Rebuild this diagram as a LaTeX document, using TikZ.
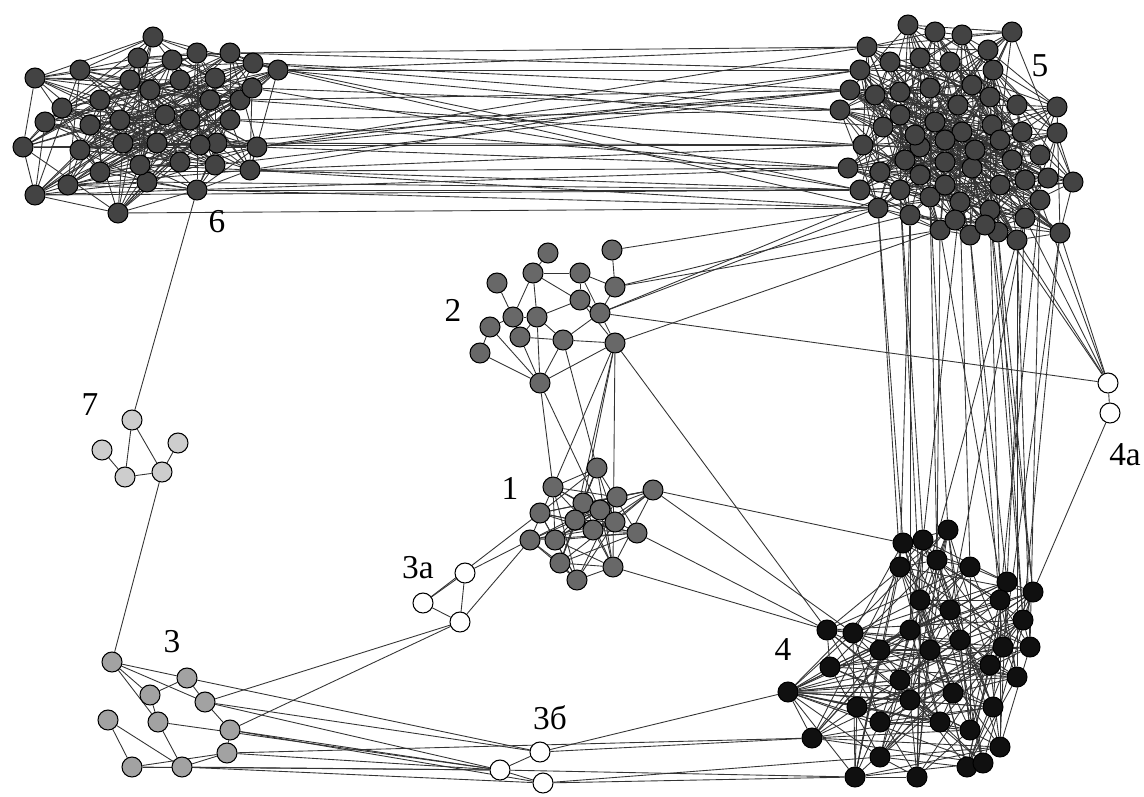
\documentclass[tikz,border=0pt]{standalone}
\usepackage{fontspec}
\setmainfont{Liberation Serif}
\usetikzlibrary{backgrounds}
\definecolor{grdark}{HTML}{434343}
\definecolor{grmid}{HTML}{686868}
\definecolor{grlight}{HTML}{A2A2A2}
\definecolor{grpale}{HTML}{CDCDCD}
\definecolor{grblack}{HTML}{101010}

\begin{document}
\begin{tikzpicture}[x=0.02cm, y=-0.02cm,
    vert/.style={circle, draw=black, line width=0.6pt, minimum size=0.4cm, inner sep=0pt},
    n6/.style={vert, fill=grdark},
    n5/.style={vert, fill=grdark},
    n4/.style={vert, fill=grblack},
    n2/.style={vert, fill=grmid},
    n3/.style={vert, fill=grlight},
    n7/.style={vert, fill=grpale},
    nw/.style={vert, fill=white},
    link/.style={draw=black!80, line width=0.5pt},
    lbl/.style={font=\fontsize{19}{20}\selectfont, inner sep=1pt}]
    \useasboundingbox (0,0) rectangle (1144,796);

    % cluster 6
    \foreach \p [count=\i] in {(35,78),(80,70),(153,37),(138,58),(197,53),(230,53),(253,63),(278,70),
        (45,122),(23,147),(35,195),(118,213),(147,182),(197,190),(257,147),(217,143),(123,143),
        (157,143),(100,100),(150,90),(180,80),(210,100),(240,100),(120,120),(190,120),(230,120),
        (80,150),(100,172),(180,162),(62,108),(172,60),(215,78),(252,88),(68,185),(250,170),
        (130,80),(200,145),(165,115),(90,125),(140,165),(215,165)}
        \node[n6] (g6-\i) at \p {};
    % cluster 5
    \foreach \p [count=\i] in {(908,25),(935,32),(962,35),(1012,32),(867,47),(988,50),(993,70),
        (1017,105),(1057,107),(1057,133),(1073,182),(1060,233),(1017,240),(878,208),(840,110),
        (883,127),(863,145),(920,147),(860,70),(890,62),(920,58),(950,62),(972,85),(900,92),
        (930,88),(958,105),(990,97),(1022,132),(1040,155),(850,90),(900,115),(935,122),(962,132),
        (992,125),(1012,160),(1040,200),(1025,218),(848,168),(880,172),(905,160),(945,162),
        (972,168),(1000,185),(900,190),(930,197),(960,202),(990,210),(940,230),(970,235),
        (998,232),(910,215),(860,190),(1048,178),
        (875,95),(915,135),(945,140),(975,150),(1000,140),(1025,180),(945,185),(920,175),
        (985,225),(955,220)}
        \node[n5] (g5-\i) at \p {};
    % cluster 4
    \foreach \p [count=\i] in {(948,530),(903,543),(923,540),(900,567),(937,560),(970,567),
        (1007,582),(1033,592),(1023,620),(827,630),(853,633),(1003,647),(1030,647),(830,667),
        (1017,677),(788,692),(857,707),(910,700),(953,693),(993,707),(812,738),(1000,747),
        (880,757),(967,767),(983,763),(855,777),(917,777),(920,600),(950,610),(880,650),
        (930,650),(960,640),(900,680),(940,722),(880,722),(970,730),(1000,600),(910,630),(990,665)}
        \node[n4] (g4-\i) at \p {};
    % cluster 2
    \foreach \p [count=\i] in {(548,253),(612,250),(497,283),(533,273),(580,273),(615,287),
        (490,327),(513,317),(537,317),(580,300),(600,313),(520,337),(563,340),(615,343),
        (480,353),(540,383)}
        \node[n2] (g2-\i) at \p {};
    % cluster 1
    \foreach \p [count=\i] in {(597,468),(553,487),(583,503),(617,497),(653,490),(540,513),
        (593,530),(637,533),(530,540),(560,563),(577,580),(613,567),(555,540),(600,510),
        (575,520),(615,522)}
        \node[n2] (g1-\i) at \p {};
    % cluster 3
    \foreach \p [count=\i] in {(112,662),(187,678),(150,695),(205,702),(108,720),(158,722),
        (230,730),(132,767),(182,767),(227,753)}
        \node[n3] (g3-\i) at \p {};
    % cluster 7
    \foreach \p [count=\i] in {(132,420),(102,450),(178,443),(125,477),(162,472)}
        \node[n7] (g7-\i) at \p {};
    % small white groups
    \node[nw] (ga-1) at (465,573) {};
    \node[nw] (ga-2) at (423,603) {};
    \node[nw] (ga-3) at (460,622) {};
    \node[nw] (gb-1) at (540,752) {};
    \node[nw] (gb-2) at (500,770) {};
    \node[nw] (gb-3) at (543,783) {};
    \node[nw] (gc-1) at (1108,383) {};
    \node[nw] (gc-2) at (1110,413) {};

    % labels
    \node[lbl] (l6) at (217,222) {6};
    \node[lbl] (l5) at (1040,66) {5};
    \node[lbl] (l2) at (453,310) {2};
    \node[lbl] (l1) at (510,488) {1};
    \node[lbl] (l7) at (90,405) {7};
    \node[lbl] (l3) at (172,642) {3};
    \node[lbl] (l3a) at (418,568) {3a};
    \node[lbl] (l3b) at (550,718) {3б};
    \node[lbl] (l4) at (783,650) {4};
    \node[lbl] (l4a) at (1125,455) {4a};

    \begin{pgfonlayer}{background}
    % inside the dense clusters
    \foreach \i in {1,...,41}{
      \foreach \k in {1,2,5,9,14,20}{
        \pgfmathtruncatemacro\j{mod(\i+\k-1,41)+1}
        \draw[link] (g6-\i) -- (g6-\j);
      }
    }
    \foreach \i in {1,...,63}{
      \foreach \k in {1,3,7,12,20,29}{
        \pgfmathtruncatemacro\j{mod(\i+\k-1,63)+1}
        \draw[link] (g5-\i) -- (g5-\j);
      }
    }
    \foreach \i in {1,...,39}{
      \foreach \k in {1,4,9,15,22}{
        \pgfmathtruncatemacro\j{mod(\i+\k-1,39)+1}
        \draw[link] (g4-\i) -- (g4-\j);
      }
    }
    \foreach \j in {11,14,17,18,19,20,21,23,26,30,33,35,34,36}
      \draw[link] (g4-16) -- (g4-\j);
    \foreach \i in {1,...,16}{
      \foreach \k in {1,2,5,7}{
        \pgfmathtruncatemacro\j{mod(\i+\k-1,16)+1}
        \draw[link] (g1-\i) -- (g1-\j);
      }
    }
    \foreach \a/\b in {1/4,4/5,4/9,4/8,4/11,3/8,2/6,5/10,5/11,10/11,8/9,8/7,7/16,9/13,9/16,
        9/12,12/16,13/14,11/14,10/14,15/16,16/14,7/15,9/10,12/13,8/12,5/6,6/11,13/16,11/13}
      \draw[link] (g2-\a) -- (g2-\b);
    \foreach \a/\b in {1/2,1/3,1/4,1/6,2/3,2/4,4/7,3/6,6/9,9/10,8/9,8/10,5/8,5/9,7/10}
      \draw[link] (g3-\a) -- (g3-\b);
    \foreach \a/\b in {1/4,1/5,4/5,3/5,2/4}
      \draw[link] (g7-\a) -- (g7-\b);
    \draw[link] (ga-1) -- (ga-3);
    \draw[link] (ga-2) -- (ga-3);
    \draw[link] (ga-1) -- (ga-2);
    \draw[link] (gb-1) -- (gb-2);
    \draw[link] (gb-2) -- (gb-3);
    \draw[link] (gc-1) -- (gc-2);

    % between clusters
    \foreach \a/\b in {8/5,8/19,7/30,33/15,23/17,26/15,15/38,35/52,14/14,16/30,6/5,13/52,11/38,
        12/14,15/19,35/17,26/38,23/30,33/52,8/16,7/15,16/17,14/52,6/19,35/14,15/30,28/38,11/52,
        8/14,7/52,15/5,35/19,41/30,37/17}
      \draw[link] (g6-\a) -- (g5-\b);
    \foreach \a/\b in {14/2,44/3,51/4,45/1,48/5,46/6,49/7,47/8,50/9,13/28,37/29,36/37,12/12,
        13/13,48/15,49/12,47/9,50/8,46/3,45/5,44/28,51/38,37/7,36/13,12/9,13/15,14/4,47/37}
      \draw[link] (g5-\a) -- (g4-\b);
    \foreach \b in {12,13,36,37,47}
      \draw[link] (g5-\b) -- (gc-1);
    \draw[link] (gc-2) -- (g4-8);
    \foreach \a/\b in {2/14,6/51,6/48,11/44,14/48,11/14}
      \draw[link] (g2-\a) -- (g5-\b);
    \draw[link] (g2-11) -- (gc-1);
    \draw[link] (g2-14) -- (g4-10);
    \foreach \a/\b in {16/2,16/14,14/2,14/3,14/15,14/12,13/1}
      \draw[link] (g2-\a) -- (g1-\b);
    \foreach \a/\b in {8/10,5/11,12/10,5/2}
      \draw[link] (g1-\a) -- (g4-\b);
    \draw[link] (ga-1) -- (g1-9);
    \draw[link] (ga-3) -- (g1-9);
    \draw[link] (ga-2) -- (g1-6);
    \draw[link] (g3-4) -- (ga-3);
    \draw[link] (g3-7) -- (ga-3);
    \foreach \a/\b in {4/1,4/2,7/2,7/3,10/2,9/3,8/2,6/2,2/1,9/2}
      \draw[link] (g3-\a) -- (gb-\b);
    \draw[link] (gb-1) -- (g4-16);
    \draw[link] (gb-1) -- (g4-21);
    \draw[link] (gb-3) -- (g4-26);
    \draw[link] (gb-2) -- (g4-26);
    \draw[link] (gb-3) -- (g4-23);
    \draw[link] (g3-10) -- (g4-21);
    \draw[link] (g6-14) -- (g7-1);
    \draw[link] (g7-5) -- (g3-1);
    \end{pgfonlayer}
\end{tikzpicture}
\end{document}
